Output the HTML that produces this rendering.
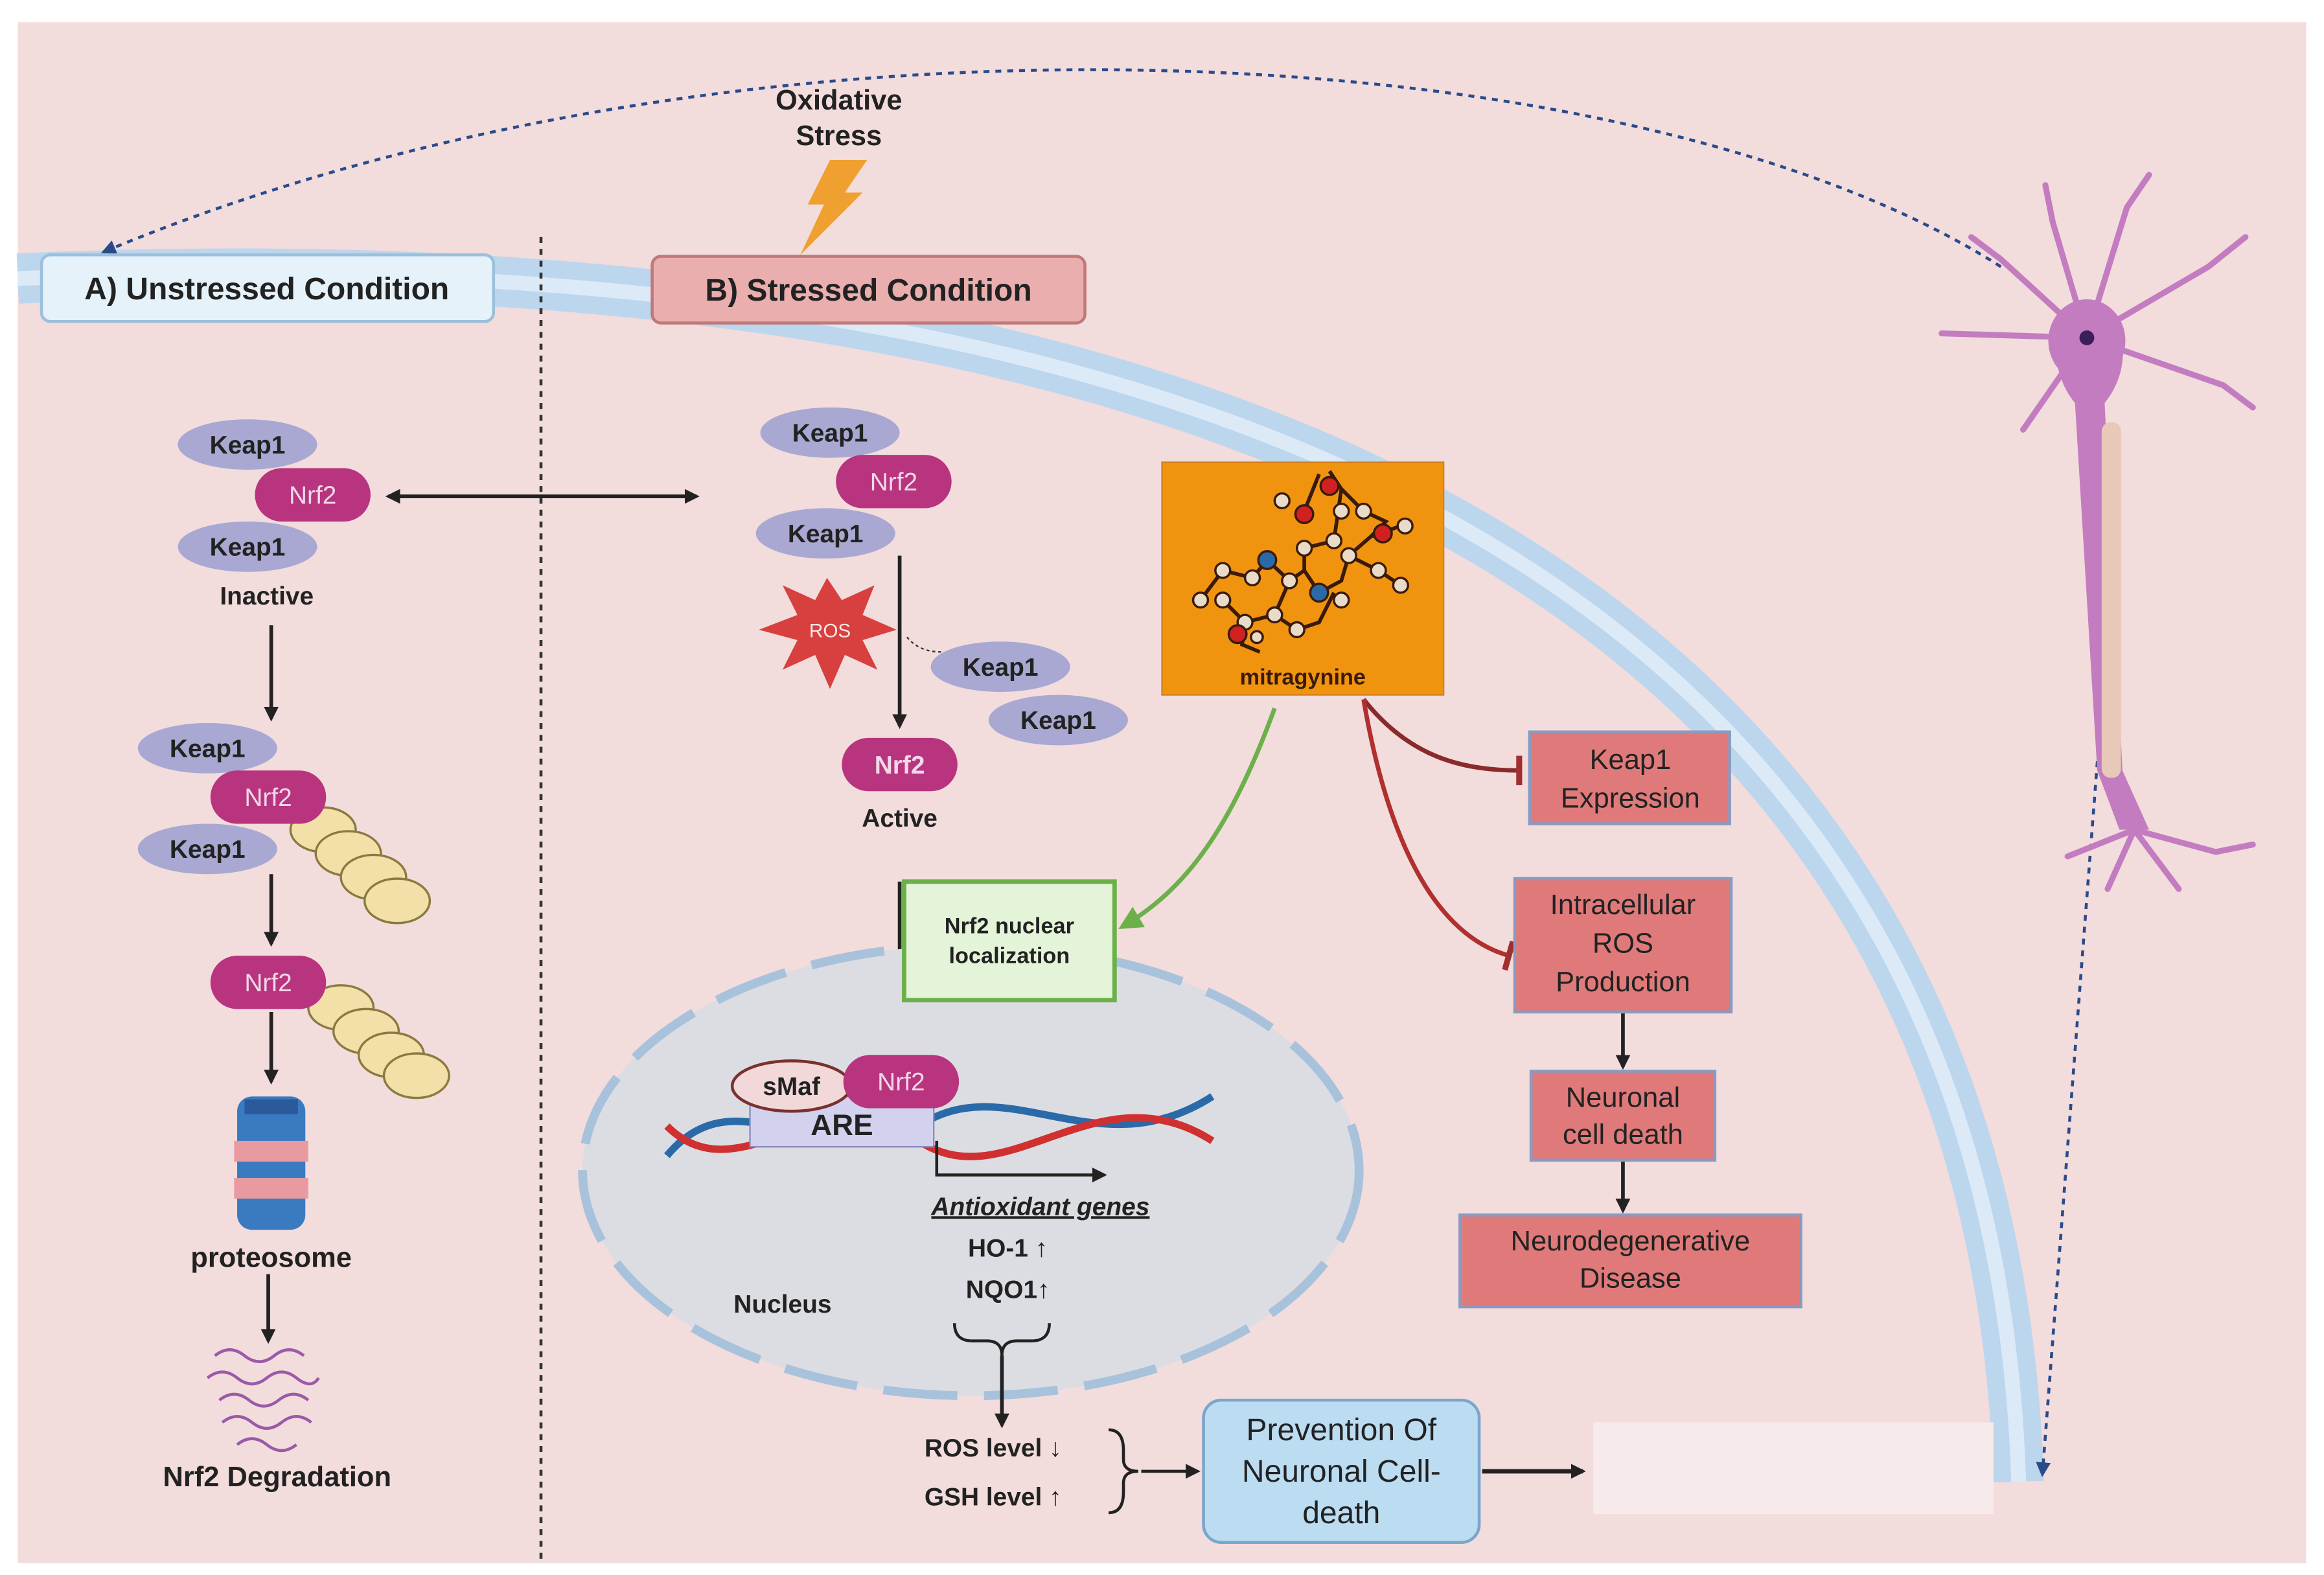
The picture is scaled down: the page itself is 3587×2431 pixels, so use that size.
<!DOCTYPE html>
<html><head><meta charset="utf-8"><style>
html,body{margin:0;padding:0;background:#fff;}
svg{display:block;}
text{font-family:"Liberation Sans",sans-serif;font-weight:bold;}
text.n{font-weight:normal;}
</style></head><body>
<svg width="3587" height="2431" viewBox="0 0 1568 1063" preserveAspectRatio="none" xmlns="http://www.w3.org/2000/svg">
<defs>
<marker id="ah" markerWidth="10" markerHeight="10" refX="8" refY="5" orient="auto" markerUnits="userSpaceOnUse"><path d="M0,0 L10,5 L0,10 z" fill="#222"/></marker>
<marker id="ahb" markerWidth="10" markerHeight="10" refX="8" refY="5" orient="auto" markerUnits="userSpaceOnUse"><path d="M0,0 L10,5 L0,10 z" fill="#2a4a8a"/></marker>
<marker id="ahs" markerWidth="10" markerHeight="10" refX="2" refY="5" orient="auto" markerUnits="userSpaceOnUse"><path d="M10,0 L0,5 L10,10 z" fill="#222"/></marker>
<marker id="ahg" markerWidth="16" markerHeight="16" refX="12" refY="8" orient="auto" markerUnits="userSpaceOnUse"><path d="M0,0 L16,8 L0,16 z" fill="#6cb04a"/></marker>
<marker id="tbar" markerWidth="4" markerHeight="20" refX="2" refY="10" orient="auto" markerUnits="userSpaceOnUse"><rect x="0" y="0" width="4" height="20" fill="#a03030"/></marker>
</defs>
<rect x="0" y="0" width="1568" height="1063" fill="#fff"/>
<rect x="12" y="15" width="1544" height="1040" fill="#f2dcdc"/>
<path d="M12,188 C 650,160 1340,300 1362,1000" fill="none" stroke="#bcd6ee" stroke-width="34"/>
<path d="M12,188 C 650,160 1340,300 1362,1000" fill="none" stroke="#dceaf7" stroke-width="10"/>
<rect x="1075" y="960" width="270" height="62" fill="#f7eaea"/>
<line x1="365" y1="160" x2="365" y2="1055" stroke="#333" stroke-width="2" stroke-dasharray="4,4"/>
<path d="M1350,180 C 1100,20 500,-10 70,170" fill="none" stroke="#2a4a8a" stroke-width="2" stroke-dasharray="4,4" marker-end="url(#ahb)"/>
<path d="M1420,450 L1378,995" fill="none" stroke="#2a4a8a" stroke-width="2" stroke-dasharray="4,4" marker-end="url(#ahb)"/>
<g stroke="#c37cc0" stroke-width="4" fill="none" stroke-linecap="round">
<path d="M1408,228 L1350,175 M1408,228 L1310,225 M1408,228 L1385,150 M1408,228 L1435,140 M1408,228 L1490,180 M1408,228 L1500,260 M1408,228 L1365,290 M1350,175 L1330,160 M1385,150 L1380,125 M1435,140 L1450,118 M1490,180 L1515,160 M1500,260 L1520,275"/>
<path d="M1440,560 L1395,578 M1440,560 L1470,600 M1440,560 L1495,575 M1440,560 L1422,600 M1495,575 L1520,570"/>
</g>
<path d="M1408,205 C1438,215 1438,250 1420,272 L1432,520 L1450,560 L1430,560 L1415,520 L1400,272 C1382,250 1382,215 1408,205z" fill="#c37cc0"/>
<ellipse cx="1408" cy="230" rx="26" ry="28" fill="#c37cc0"/>
<circle cx="1408" cy="228" r="5" fill="#3a1f5a"/>
<rect x="1418" y="285" width="13" height="240" rx="6" fill="#e8c8b8"/>
<rect x="28" y="172" width="305" height="45" rx="6" fill="#e6f2fa" stroke="#9cbfda" stroke-width="2"/>
<text x="180" y="202" font-size="21" text-anchor="middle" fill="#222">A) Unstressed Condition</text>
<rect x="440" y="173" width="292" height="45" rx="6" fill="#eaaeae" stroke="#c07878" stroke-width="2"/>
<text x="586" y="203" font-size="21" text-anchor="middle" fill="#222">B) Stressed Condition</text>
<text x="566" y="74" font-size="19" text-anchor="middle" fill="#222">Oxidative</text>
<text x="566" y="98" font-size="19" text-anchor="middle" fill="#222">Stress</text>
<path d="M560,108 L585,108 L570,130 L582,130 L540,172 L556,138 L545,138 z" fill="#f0a030"/>
<g font-size="17" text-anchor="middle">
<ellipse cx="167" cy="300" rx="47" ry="17" fill="#a8a8d2"/><text x="167" y="306" fill="#222">Keap1</text>
<ellipse cx="167" cy="369" rx="47" ry="17" fill="#a8a8d2"/><text x="167" y="375" fill="#222">Keap1</text>
<rect x="172" y="316" width="78" height="36" rx="18" fill="#b8347f"/><text class="n" x="211" y="340" fill="#f0d8e8">Nrf2</text>
<text x="180" y="408" fill="#222">Inactive</text>
<ellipse cx="140" cy="505" rx="47" ry="17" fill="#a8a8d2"/><text x="140" y="511" fill="#222">Keap1</text>
<ellipse cx="140" cy="573" rx="47" ry="17" fill="#a8a8d2"/><text x="140" y="579" fill="#222">Keap1</text>
<g fill="#f2e0a8" stroke="#8a7a40" stroke-width="1.5">
<ellipse cx="218" cy="560" rx="22" ry="15"/><ellipse cx="235" cy="576" rx="22" ry="15"/><ellipse cx="252" cy="592" rx="22" ry="15"/><ellipse cx="268" cy="608" rx="22" ry="15"/>
<ellipse cx="230" cy="680" rx="22" ry="15"/><ellipse cx="247" cy="696" rx="22" ry="15"/><ellipse cx="264" cy="712" rx="22" ry="15"/><ellipse cx="281" cy="726" rx="22" ry="15"/>
</g>
<rect x="142" y="520" width="78" height="36" rx="18" fill="#b8347f"/><text class="n" x="181" y="544" fill="#f0d8e8">Nrf2</text>
<rect x="142" y="645" width="78" height="36" rx="18" fill="#b8347f"/><text class="n" x="181" y="669" fill="#f0d8e8">Nrf2</text>
</g>
<g stroke="#222" stroke-width="2.5" fill="none">
<line x1="183" y1="422" x2="183" y2="485" marker-end="url(#ah)"/>
<line x1="183" y1="590" x2="183" y2="637" marker-end="url(#ah)"/>
<line x1="183" y1="683" x2="183" y2="730" marker-end="url(#ah)"/>
<line x1="181" y1="860" x2="181" y2="905" marker-end="url(#ah)"/>
<line x1="262" y1="335" x2="470" y2="335" marker-end="url(#ah)" marker-start="url(#ahs)"/>
</g>
<rect x="160" y="740" width="46" height="90" rx="10" fill="#3a7ac0"/>
<rect x="158" y="770" width="50" height="14" fill="#e89aa0"/>
<rect x="158" y="795" width="50" height="14" fill="#e89aa0"/>
<rect x="165" y="742" width="36" height="10" fill="#2a5a9a"/>
<text x="183" y="855" font-size="19" text-anchor="middle" fill="#222">proteosome</text>
<g stroke="#9a5aa8" stroke-width="2" fill="none">
<path d="M145,915 q10,-8 20,0 t20,0 t20,0"/><path d="M140,930 q10,-8 20,0 t20,0 t20,0 t15,0"/><path d="M148,945 q10,-8 20,0 t20,0 t20,0"/><path d="M150,960 q10,-8 20,0 t20,0 t20,0"/><path d="M160,975 q10,-8 20,0 t20,0"/>
</g>
<text x="187" y="1003" font-size="19" text-anchor="middle" fill="#222">Nrf2 Degradation</text>
<g font-size="17" text-anchor="middle">
<ellipse cx="560" cy="292" rx="47" ry="17" fill="#a8a8d2"/><text x="560" y="298" fill="#222">Keap1</text>
<ellipse cx="557" cy="360" rx="47" ry="17" fill="#a8a8d2"/><text x="557" y="366" fill="#222">Keap1</text>
<rect x="564" y="307" width="78" height="36" rx="18" fill="#b8347f"/><text class="n" x="603" y="331" fill="#f0d8e8">Nrf2</text>
<ellipse cx="675" cy="450" rx="47" ry="17" fill="#a8a8d2"/><text x="675" y="456" fill="#222">Keap1</text>
<ellipse cx="714" cy="486" rx="47" ry="17" fill="#a8a8d2"/><text x="714" y="492" fill="#222">Keap1</text>
<rect x="568" y="498" width="78" height="36" rx="18" fill="#b8347f"/><text x="607" y="522" fill="#f0d8e8">Nrf2</text>
<text x="607" y="558" fill="#222">Active</text>
</g>
<path d="M558,390 L568,405 L590,395 L582,415 L605,425 L582,432 L592,452 L570,442 L560,465 L550,442 L528,452 L538,432 L512,425 L538,415 L528,395 L550,405z" fill="#d84040"/>
<text class="n" x="560" y="430" font-size="13" text-anchor="middle" fill="#f8e8e8">ROS</text>
<path d="M612,430 Q620,440 635,440" stroke="#333" stroke-dasharray="2,2" fill="none"/>
<g stroke="#222" stroke-width="2.5" fill="none">
<line x1="607" y1="375" x2="607" y2="490" marker-end="url(#ah)"/>
<polyline points="607,595 607,703" marker-end="url(#ah)"/>
</g>
<ellipse cx="655" cy="790" rx="262" ry="152" fill="#dcdde2"/>
<ellipse cx="655" cy="790" rx="262" ry="152" fill="none" stroke="#a8c2dc" stroke-width="6" stroke-dasharray="50,18"/>
<rect x="610" y="595" width="142" height="80" fill="#e4f4d8" stroke="#6cb04a" stroke-width="3"/>
<text x="681" y="630" font-size="15" text-anchor="middle" fill="#222">Nrf2 nuclear</text>
<text x="681" y="650" font-size="15" text-anchor="middle" fill="#222">localization</text>
<g fill="none" stroke-width="5">
<path d="M450,780 C500,720 560,800 620,760 C680,720 740,790 818,740" stroke="#2a6aa8"/>
<path d="M450,760 C500,810 560,720 620,770 C680,810 740,720 818,770" stroke="#d03030"/>
</g>
<rect x="506" y="740" width="124" height="34" fill="#d2d2ee" stroke="#8a8ac0"/>
<text x="568" y="766" font-size="20" text-anchor="middle" fill="#222">ARE</text>
<ellipse cx="534" cy="733" rx="40" ry="17" fill="#f2d8d8" stroke="#7a3030" stroke-width="2"/>
<text x="534" y="739" font-size="17" text-anchor="middle" fill="#222">sMaf</text>
<rect x="569" y="712" width="78" height="36" rx="18" fill="#b8347f"/><text class="n" x="608" y="736" font-size="17" text-anchor="middle" fill="#f0d8e8">Nrf2</text>
<polyline points="632,770 632,793 745,793" stroke="#222" stroke-width="2" fill="none" marker-end="url(#ah)"/>
<text x="702" y="820" font-size="17" text-anchor="middle" fill="#222" font-style="italic" text-decoration="underline">Antioxidant genes</text>
<text x="680" y="848" font-size="17" text-anchor="middle" fill="#222">HO-1 ↑</text>
<text x="680" y="876" font-size="17" text-anchor="middle" fill="#222">NQO1↑</text>
<text x="528" y="886" font-size="17" text-anchor="middle" fill="#222">Nucleus</text>
<path d="M644,893 q0,12 12,12 h10 q10,0 10,10 q0,-10 10,-10 h10 q12,0 12,-12" stroke="#222" stroke-width="2" fill="none"/>
<line x1="676" y1="915" x2="676" y2="962" stroke="#222" stroke-width="2.5" marker-end="url(#ah)"/>
<text x="670" y="983" font-size="17" text-anchor="middle" fill="#222">ROS level ↓</text>
<text x="670" y="1016" font-size="17" text-anchor="middle" fill="#222">GSH level ↑</text>
<path d="M748,965 q10,0 10,14 v6 q0,8 10,8 q-10,0 -10,8 v6 q0,14 -10,14" stroke="#222" stroke-width="2" fill="none"/>
<line x1="770" y1="993" x2="808" y2="993" stroke="#222" stroke-width="2" marker-end="url(#ah)"/>
<rect x="812" y="945" width="186" height="96" rx="12" fill="#bcdcf2" stroke="#7aa6cc" stroke-width="2"/>
<g font-size="21" text-anchor="middle" fill="#222">
<text class="n" x="905" y="972">Prevention Of</text>
<text class="n" x="905" y="1000">Neuronal Cell-</text>
<text class="n" x="905" y="1028">death</text>
</g>
<line x1="1000" y1="993" x2="1068" y2="993" stroke="#222" stroke-width="3" marker-end="url(#ah)"/>
<rect x="784" y="312" width="190" height="157" fill="#f09410" stroke="#d08020"/>
<g stroke="#3a1a0a" stroke-width="2.5" fill="none">
<path d="M810,405 L825,385 L845,390 L855,378 L870,392 L880,385 L890,400 L905,392 L910,375 L925,362 L935,352 L920,345 L905,330 M925,362 L945,355 M910,375 L930,385 L945,395 M870,392 L860,415 L840,420 L825,405 M860,415 L875,425 L890,420 L900,400 M840,420 L838,435 L850,440 M880,385 L880,370 L900,365 L905,330 L897,318 M890,320 L880,345"/>
</g>
<g stroke="#3a1a0a" stroke-width="1.5">
<circle cx="825" cy="385" r="5" fill="#e8dcc8"/><circle cx="810" cy="405" r="5" fill="#e8dcc8"/><circle cx="825" cy="405" r="5" fill="#e8dcc8"/><circle cx="845" cy="390" r="5" fill="#e8dcc8"/><circle cx="855" cy="378" r="6" fill="#2a6aa8"/><circle cx="870" cy="392" r="5" fill="#e8dcc8"/><circle cx="840" cy="420" r="5" fill="#e8dcc8"/><circle cx="860" cy="415" r="5" fill="#e8dcc8"/><circle cx="875" cy="425" r="5" fill="#e8dcc8"/><circle cx="890" cy="400" r="6" fill="#2a6aa8"/><circle cx="880" cy="370" r="5" fill="#e8dcc8"/><circle cx="900" cy="365" r="5" fill="#e8dcc8"/><circle cx="905" cy="345" r="5" fill="#e8dcc8"/><circle cx="897" cy="328" r="6" fill="#d02020"/><circle cx="880" cy="347" r="6" fill="#d02020"/><circle cx="865" cy="338" r="5" fill="#e8dcc8"/><circle cx="920" cy="345" r="5" fill="#e8dcc8"/><circle cx="933" cy="360" r="6" fill="#d02020"/><circle cx="948" cy="355" r="5" fill="#e8dcc8"/><circle cx="910" cy="375" r="5" fill="#e8dcc8"/><circle cx="930" cy="385" r="5" fill="#e8dcc8"/><circle cx="945" cy="395" r="5" fill="#e8dcc8"/><circle cx="905" cy="405" r="5" fill="#e8dcc8"/><circle cx="835" cy="428" r="6" fill="#d02020"/><circle cx="848" cy="430" r="4" fill="#e8dcc8"/>
</g>
<text x="879" y="462" font-size="15" text-anchor="middle" fill="#3a1a0a">mitragynine</text>
<path d="M860,478 C830,560 800,600 758,625" stroke="#6cb04a" stroke-width="3" fill="none" marker-end="url(#ahg)"/>
<path d="M920,472 C950,510 985,520 1025,520" stroke="#8a2a2a" stroke-width="3" fill="none" marker-end="url(#tbar)"/>
<path d="M920,472 C935,560 965,630 1018,645" stroke="#b03030" stroke-width="3" fill="none" marker-end="url(#tbar)"/>
<g font-size="19" text-anchor="middle" fill="#222">
<rect x="1032" y="494" width="135" height="62" fill="#e07a7a" stroke="#8a9ac0" stroke-width="2"/>
<text class="n" x="1100" y="519">Keap1</text><text class="n" x="1100" y="545">Expression</text>
<rect x="1022" y="593" width="146" height="90" fill="#e07a7a" stroke="#8a9ac0" stroke-width="2"/>
<text class="n" x="1095" y="617">Intracellular</text><text class="n" x="1095" y="643">ROS</text><text class="n" x="1095" y="669">Production</text>
<rect x="1033" y="723" width="124" height="60" fill="#e07a7a" stroke="#8a9ac0" stroke-width="2"/>
<text class="n" x="1095" y="747">Neuronal</text><text class="n" x="1095" y="772">cell death</text>
<rect x="985" y="820" width="230" height="62" fill="#e07a7a" stroke="#8a9ac0" stroke-width="2"/>
<text class="n" x="1100" y="844">Neurodegenerative</text><text class="n" x="1100" y="869">Disease</text>
</g>
<line x1="1095" y1="684" x2="1095" y2="720" stroke="#222" stroke-width="2.5" marker-end="url(#ah)"/>
<line x1="1095" y1="784" x2="1095" y2="817" stroke="#222" stroke-width="2.5" marker-end="url(#ah)"/>
</svg>
</body></html>
